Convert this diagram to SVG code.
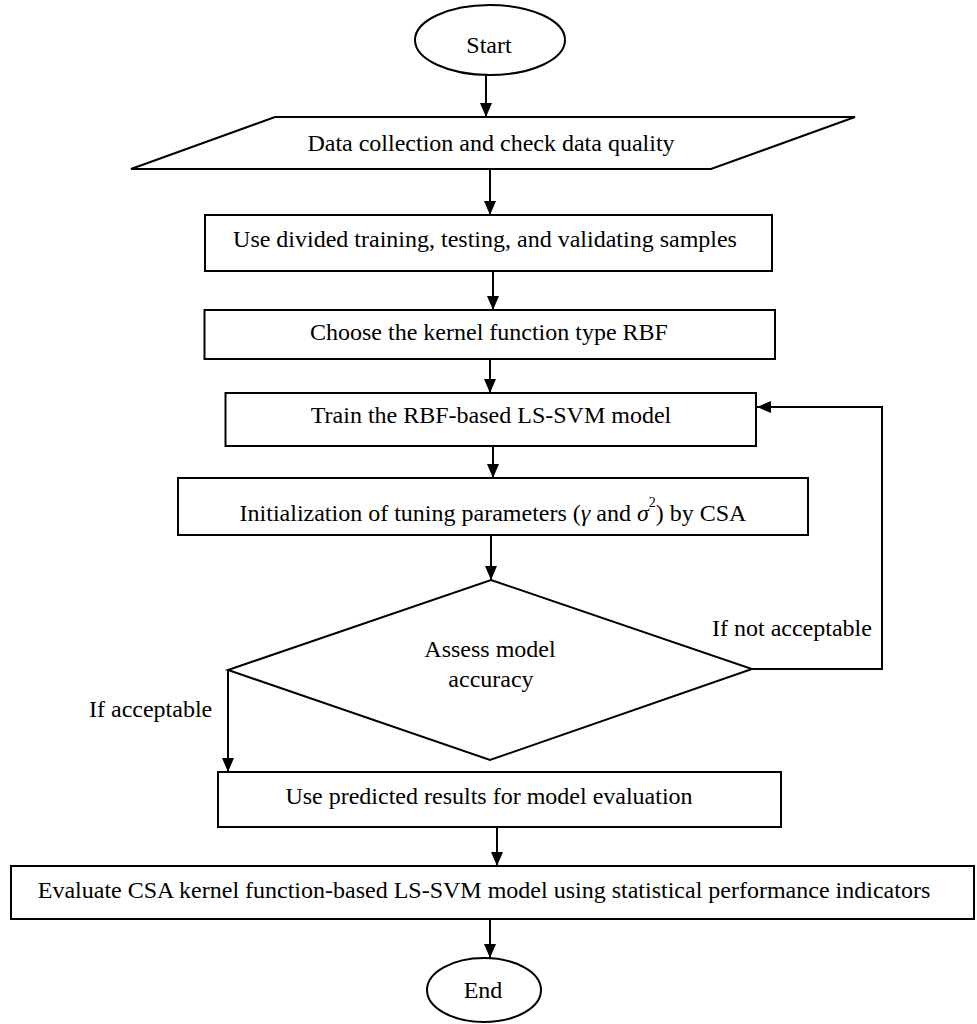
<svg xmlns="http://www.w3.org/2000/svg" width="977" height="1024" viewBox="0 0 977 1024">
<style>
  .shape { fill: #ffffff; stroke: #000000; stroke-width: 2; }
  .conn { fill: none; stroke: #000000; stroke-width: 2; }
  text { font-family: "Liberation Serif", "Times New Roman", serif; font-size: 24px; fill: #000000; }
  .c { text-anchor: middle; }
</style>
<defs>
  <marker id="arrow" markerUnits="userSpaceOnUse" markerWidth="14" markerHeight="12" refX="14" refY="6" orient="auto">
    <path d="M0,0 L14,6 L0,12 z" fill="#000000"/>
  </marker>
</defs>
<rect x="0" y="0" width="977" height="1024" fill="#ffffff"/>

<g id="connectors">
  <line class="conn" x1="486" y1="75" x2="486" y2="117" marker-end="url(#arrow)"/>
  <line class="conn" x1="490" y1="169" x2="490" y2="215" marker-end="url(#arrow)"/>
  <line class="conn" x1="493" y1="271" x2="493" y2="310" marker-end="url(#arrow)"/>
  <line class="conn" x1="490" y1="359" x2="490" y2="393" marker-end="url(#arrow)"/>
  <line class="conn" x1="493" y1="446" x2="493" y2="478" marker-end="url(#arrow)"/>
  <line class="conn" x1="491" y1="535" x2="491" y2="580" marker-end="url(#arrow)"/>
  <polyline class="conn" points="752,669 882,669 882,407 757,407" marker-end="url(#arrow)"/>
  <polyline class="conn" points="228,670 228,772" marker-end="url(#arrow)"/>
  <line class="conn" x1="497" y1="827" x2="497" y2="866" marker-end="url(#arrow)"/>
  <line class="conn" x1="490" y1="919" x2="490" y2="958" marker-end="url(#arrow)"/>
  <text x="712" y="636">If not acceptable</text>
  <text x="89" y="717">If acceptable</text>
</g>

<g id="start">
  <ellipse class="shape" cx="490" cy="40" rx="75" ry="35"/>
  <text class="c" x="489" y="53">Start</text>
</g>

<g id="data-collection">
  <polygon class="shape" points="275,117 855,117 711,169 131,169"/>
  <text class="c" x="491" y="151">Data collection and check data quality</text>
</g>

<g id="divide-samples">
  <rect class="shape" x="205" y="215" width="567" height="56"/>
  <text class="c" x="485" y="247">Use divided training, testing, and validating samples</text>
</g>

<g id="choose-kernel">
  <rect class="shape" x="204.5" y="310" width="570.5" height="49"/>
  <text class="c" x="489" y="340">Choose the kernel function type RBF</text>
</g>

<g id="train-model">
  <rect class="shape" x="225.5" y="393" width="530.5" height="53"/>
  <text class="c" x="491" y="423">Train the RBF-based LS-SVM model</text>
</g>

<g id="init-params">
  <rect class="shape" x="178" y="478" width="630" height="57"/>
  <text class="c" x="493" y="521">Initialization of tuning parameters (<tspan font-style="italic">γ</tspan> and <tspan font-style="italic">σ</tspan><tspan font-size="14" dy="-14">2</tspan><tspan dy="14">) by CSA</tspan></text>
</g>

<g id="assess-accuracy">
  <polygon class="shape" points="491,580 752,669 490,760 228,670"/>
  <text class="c" x="490" y="657">Assess model</text>
  <text class="c" x="491" y="687">accuracy</text>
</g>

<g id="use-predicted">
  <rect class="shape" x="218" y="772" width="563" height="55"/>
  <text class="c" x="489" y="804">Use predicted results for model evaluation</text>
</g>

<g id="evaluate">
  <rect class="shape" x="11" y="866" width="963" height="53"/>
  <text class="c" x="484" y="898">Evaluate CSA kernel function-based LS-SVM model using statistical performance indicators</text>
</g>

<g id="end">
  <ellipse class="shape" cx="484" cy="990" rx="57" ry="32"/>
  <text class="c" x="483" y="998">End</text>
</g>
</svg>
